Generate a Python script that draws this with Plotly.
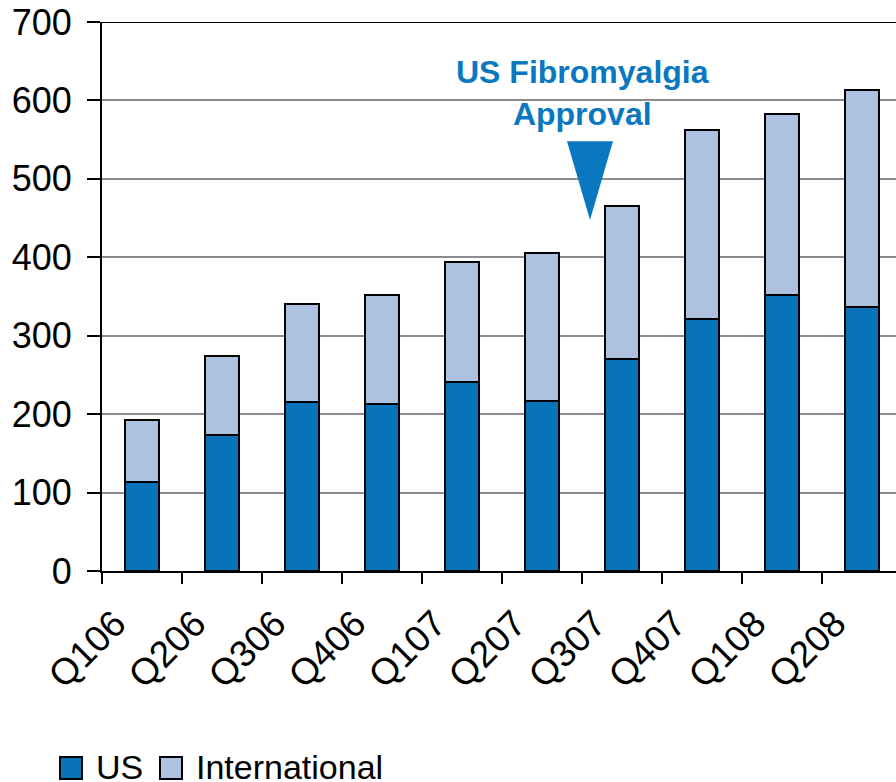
import plotly.graph_objects as go

quarters = ["Q106", "Q206", "Q306", "Q406", "Q107", "Q207", "Q307", "Q407", "Q108", "Q208"]
us = [113, 174, 215, 213, 241, 217, 270, 321, 352, 337]
total = [192, 274, 340, 352, 394, 406, 466, 562, 583, 613]
international = [t - u for t, u in zip(total, us)]

US_COLOR = "#0873B8"
INTL_COLOR = "#AEC1E0"
FONT = "Liberation Sans, Arial, sans-serif"

fig = go.Figure()
fig.add_trace(go.Bar(x=quarters, y=us, name="US", width=0.42,
                     marker=dict(color=US_COLOR, line=dict(color="black", width=2)),
                     showlegend=False))
fig.add_trace(go.Bar(x=quarters, y=international, name="International", width=0.42,
                     marker=dict(color=INTL_COLOR, line=dict(color="black", width=2)),
                     showlegend=False))

# approval marker (decoration)
fig.add_shape(type="path", xref="x", yref="y",
              path="M 5.3125 548 L 5.8875 548 L 5.6 447.5 Z",
              fillcolor="#0A78C0", line=dict(width=0))
fig.add_annotation(x=5.5, y=609, xref="x", yref="y", showarrow=False,
                   text="<b>US Fibromyalgia<br>Approval</b>",
                   font=dict(family=FONT, size=32, color="#0A78C0"),
                   align="center")

# top border line
fig.add_shape(type="line", xref="paper", yref="y", x0=0, x1=1, y0=700, y1=700,
              line=dict(color="black", width=2))

W, H = 896, 782
L, R, T, B = 102, 0, 22, 782 - 571
pw, ph = W - L - R, H - T - B

def px_x(x):
    return (x - L) / pw

def px_y(y):
    return (H - B - y) / ph

legend_items = [("US", US_COLOR, 60, 97), ("International", INTL_COLOR, 160, 197)]
for name, col, sx, tx in legend_items:
    fig.add_shape(type="rect", xref="paper", yref="paper",
                  x0=px_x(sx), x1=px_x(sx + 22), y0=px_y(757), y1=px_y(779),
                  fillcolor=col, line=dict(color="black", width=2))
    fig.add_annotation(xref="paper", yref="paper", x=px_x(tx - 3), y=px_y(767),
                       xanchor="left", yanchor="middle", showarrow=False,
                       text=name, font=dict(family=FONT, size=34, color="black"))

fig.update_layout(
    barmode="stack",
    width=W, height=H,
    margin=dict(l=L, r=R, t=T, b=B),
    plot_bgcolor="white", paper_bgcolor="white",
    font=dict(family=FONT, size=34, color="black"),
    showlegend=False,
)
fig.update_xaxes(
    type="category", range=[-0.5, 9.425],
    showline=True, linecolor="black", linewidth=2,
    ticks="outside", tickson="boundaries", ticklen=11, tickwidth=2, tickcolor="black",
    tickangle=-45, tickfont=dict(family=FONT, size=37),
    showgrid=False, zeroline=False,
    ticklabelshift=-27, ticklabelstandoff=14,
)
fig.update_yaxes(
    range=[0, 700], tickvals=[0, 100, 200, 300, 400, 500, 600, 700],
    showline=True, linecolor="black", linewidth=2,
    ticks="outside", ticklen=13, tickwidth=2, tickcolor="black",
    showgrid=True, gridcolor="#8C8C8C", gridwidth=2,
    zeroline=False, tickfont=dict(family=FONT, size=36),
    ticklabelstandoff=8,
)

fig.write_html("out.html",
               config={"displayModeBar": False},
               post_script="document.body.style.margin='0';document.body.style.overflow='hidden';")
